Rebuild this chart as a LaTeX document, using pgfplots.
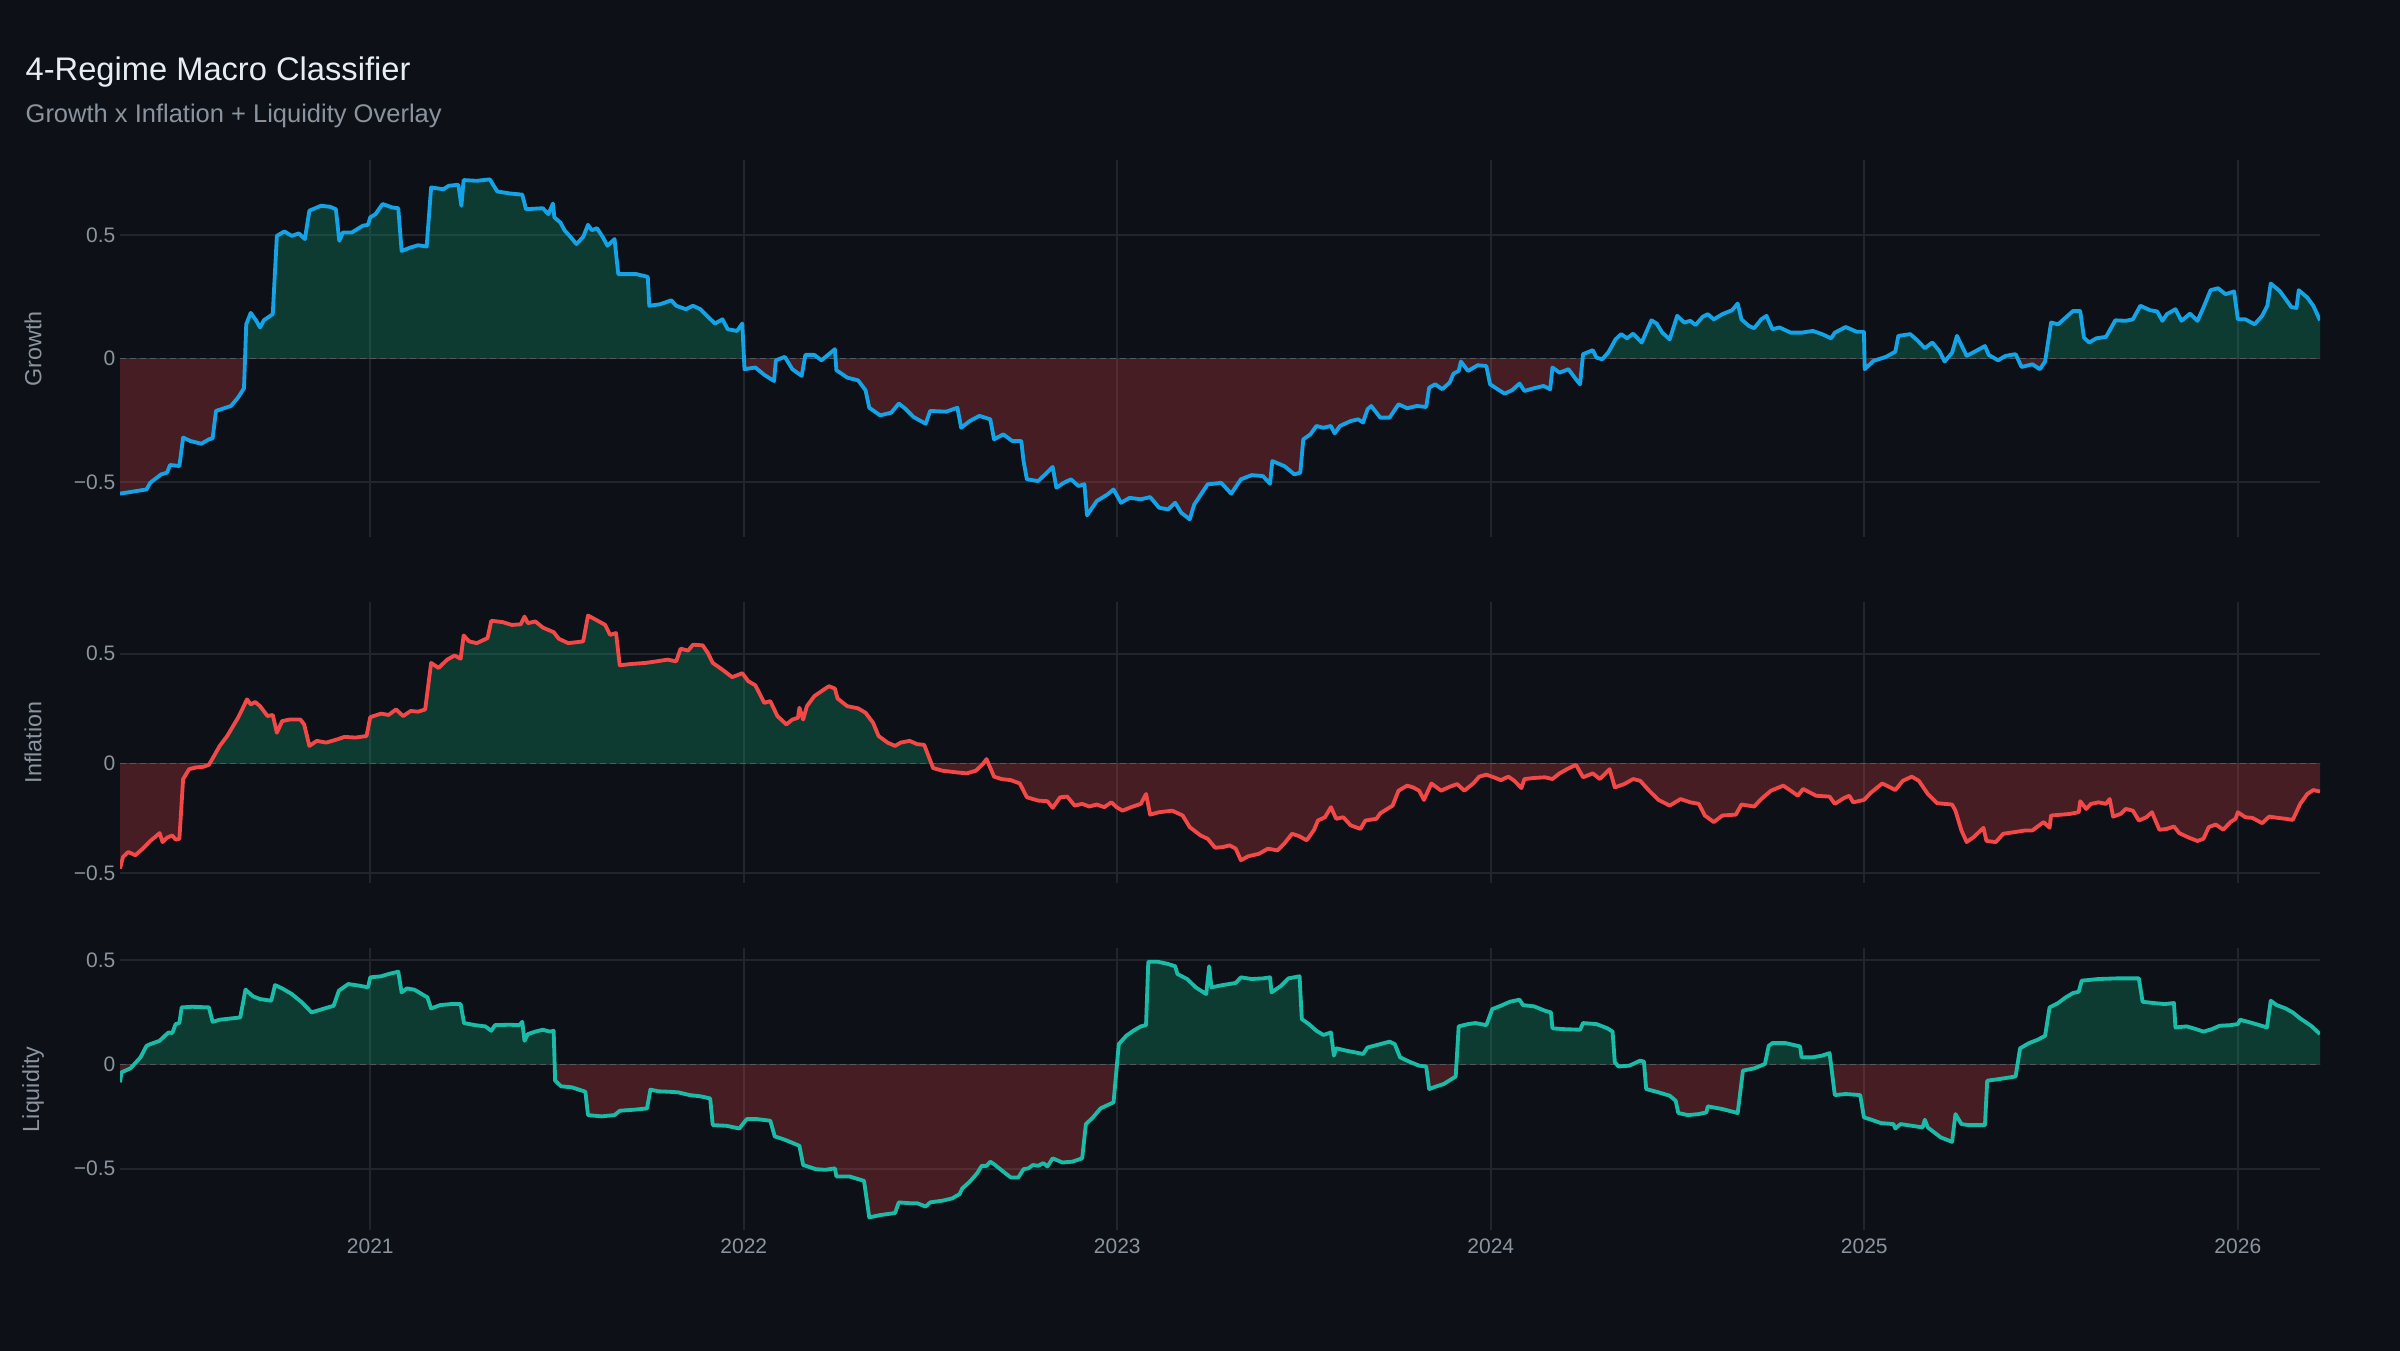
\documentclass[border=0pt]{standalone}
\usepackage{fontspec}
\setmainfont{Liberation Sans}
\usepackage{xcolor}
\usepackage{pgfplots}
\pgfplotsset{compat=1.18}
\usepackage{pgfplotstable}

\definecolor{bgc}{RGB}{13,17,23}
\definecolor{gridc}{RGB}{33,38,45}
\definecolor{zeroc}{RGB}{85,88,94}
\definecolor{titlec}{RGB}{230,237,243}
\definecolor{subc}{RGB}{139,148,158}
\definecolor{gline}{RGB}{20,163,230}
\definecolor{iline}{RGB}{242,72,72}
\definecolor{lline}{RGB}{26,188,168}
\definecolor{posc}{RGB}{16,185,129}
\definecolor{negc}{RGB}{239,68,68}

% year  score
\pgfplotstableread{
x y
2020.330 -0.547
2020.401 -0.530
2020.411 -0.503
2020.440 -0.469
2020.456 -0.462
2020.464 -0.431
2020.489 -0.435
2020.499 -0.320
2020.519 -0.334
2020.548 -0.345
2020.568 -0.327
2020.578 -0.323
2020.587 -0.212
2020.627 -0.192
2020.646 -0.158
2020.662 -0.120
2020.668 0.139
2020.680 0.185
2020.695 0.153
2020.705 0.126
2020.715 0.155
2020.739 0.180
2020.750 0.497
2020.770 0.515
2020.790 0.497
2020.809 0.507
2020.825 0.484
2020.837 0.599
2020.868 0.619
2020.892 0.615
2020.908 0.605
2020.917 0.477
2020.927 0.511
2020.951 0.511
2020.980 0.538
2020.994 0.542
2021.000 0.572
2021.014 0.585
2021.033 0.626
2021.059 0.612
2021.075 0.609
2021.084 0.436
2021.108 0.450
2021.128 0.459
2021.151 0.454
2021.163 0.693
2021.196 0.686
2021.210 0.700
2021.236 0.704
2021.244 0.619
2021.250 0.723
2021.285 0.720
2021.320 0.726
2021.340 0.677
2021.373 0.669
2021.407 0.664
2021.417 0.605
2021.462 0.609
2021.477 0.585
2021.489 0.628
2021.493 0.572
2021.509 0.551
2021.521 0.518
2021.536 0.493
2021.552 0.464
2021.570 0.493
2021.583 0.542
2021.593 0.520
2021.607 0.528
2021.623 0.491
2021.635 0.457
2021.654 0.484
2021.664 0.342
2021.713 0.342
2021.743 0.331
2021.747 0.214
2021.776 0.220
2021.806 0.236
2021.819 0.214
2021.845 0.200
2021.864 0.214
2021.884 0.200
2021.904 0.169
2021.923 0.142
2021.943 0.159
2021.957 0.119
2021.982 0.112
2021.996 0.142
2022.002 -0.043
2022.031 -0.036
2022.055 -0.066
2022.081 -0.091
2022.086 -0.007
2022.110 0.007
2022.130 -0.043
2022.155 -0.070
2022.165 0.015
2022.189 0.015
2022.208 -0.007
2022.244 0.038
2022.248 -0.047
2022.277 -0.077
2022.306 -0.088
2022.326 -0.128
2022.336 -0.199
2022.365 -0.230
2022.395 -0.219
2022.415 -0.182
2022.434 -0.205
2022.454 -0.236
2022.487 -0.264
2022.499 -0.212
2022.542 -0.215
2022.572 -0.199
2022.582 -0.280
2022.605 -0.253
2022.631 -0.232
2022.660 -0.246
2022.670 -0.327
2022.695 -0.307
2022.719 -0.334
2022.743 -0.334
2022.749 -0.415
2022.758 -0.489
2022.788 -0.496
2022.807 -0.469
2022.827 -0.439
2022.837 -0.523
2022.857 -0.503
2022.876 -0.489
2022.896 -0.516
2022.912 -0.509
2022.919 -0.635
2022.945 -0.577
2022.974 -0.550
2022.990 -0.530
2023.010 -0.584
2023.033 -0.564
2023.063 -0.570
2023.088 -0.561
2023.112 -0.604
2023.136 -0.611
2023.155 -0.584
2023.171 -0.624
2023.194 -0.651
2023.206 -0.591
2023.242 -0.509
2023.258 -0.507
2023.278 -0.503
2023.305 -0.547
2023.331 -0.489
2023.360 -0.472
2023.390 -0.476
2023.409 -0.507
2023.415 -0.415
2023.448 -0.436
2023.474 -0.469
2023.490 -0.462
2023.498 -0.327
2023.517 -0.307
2023.533 -0.273
2023.552 -0.280
2023.572 -0.273
2023.582 -0.303
2023.596 -0.273
2023.625 -0.253
2023.645 -0.246
2023.658 -0.259
2023.670 -0.205
2023.680 -0.192
2023.704 -0.239
2023.729 -0.239
2023.753 -0.185
2023.776 -0.201
2023.802 -0.192
2023.827 -0.196
2023.835 -0.118
2023.851 -0.104
2023.870 -0.124
2023.890 -0.097
2023.900 -0.061
2023.914 -0.050
2023.920 -0.012
2023.939 -0.050
2023.965 -0.027
2023.988 -0.030
2023.998 -0.104
2024.018 -0.124
2024.037 -0.142
2024.057 -0.128
2024.077 -0.101
2024.090 -0.131
2024.116 -0.120
2024.141 -0.111
2024.159 -0.124
2024.165 -0.036
2024.184 -0.057
2024.208 -0.043
2024.228 -0.084
2024.239 -0.104
2024.247 0.018
2024.273 0.034
2024.283 0.004
2024.298 -0.003
2024.314 0.024
2024.322 0.045
2024.334 0.078
2024.349 0.099
2024.365 0.082
2024.381 0.101
2024.404 0.065
2024.430 0.155
2024.444 0.142
2024.459 0.105
2024.479 0.078
2024.499 0.173
2024.518 0.146
2024.534 0.153
2024.548 0.136
2024.567 0.169
2024.581 0.180
2024.597 0.159
2024.620 0.180
2024.646 0.196
2024.661 0.223
2024.671 0.159
2024.691 0.132
2024.705 0.123
2024.724 0.159
2024.738 0.173
2024.754 0.119
2024.773 0.126
2024.803 0.105
2024.832 0.105
2024.862 0.112
2024.887 0.099
2024.911 0.082
2024.921 0.105
2024.950 0.128
2024.979 0.109
2024.999 0.109
2025.001 -0.043
2025.025 -0.009
2025.058 0.007
2025.083 0.028
2025.091 0.092
2025.123 0.099
2025.142 0.074
2025.162 0.042
2025.182 0.065
2025.201 0.031
2025.215 -0.012
2025.235 0.024
2025.248 0.092
2025.274 0.011
2025.299 0.031
2025.323 0.051
2025.333 0.015
2025.358 -0.007
2025.378 0.011
2025.405 0.018
2025.421 -0.034
2025.450 -0.023
2025.470 -0.043
2025.484 -0.012
2025.500 0.146
2025.519 0.139
2025.539 0.166
2025.559 0.193
2025.578 0.193
2025.588 0.085
2025.602 0.065
2025.621 0.082
2025.647 0.088
2025.672 0.155
2025.700 0.153
2025.719 0.159
2025.739 0.214
2025.765 0.196
2025.784 0.191
2025.798 0.153
2025.810 0.180
2025.833 0.200
2025.849 0.153
2025.872 0.182
2025.892 0.153
2025.908 0.207
2025.927 0.277
2025.947 0.285
2025.967 0.261
2025.990 0.272
2026.000 0.159
2026.020 0.159
2026.045 0.139
2026.065 0.173
2026.079 0.214
2026.088 0.304
2026.112 0.274
2026.128 0.241
2026.143 0.209
2026.157 0.205
2026.163 0.277
2026.186 0.247
2026.202 0.214
2026.220 0.155
}\growth

\pgfplotstableread{
x y
2020.330 -0.479
2020.338 -0.426
2020.352 -0.403
2020.371 -0.418
2020.391 -0.388
2020.411 -0.353
2020.424 -0.335
2020.436 -0.317
2020.444 -0.358
2020.456 -0.338
2020.470 -0.328
2020.479 -0.347
2020.489 -0.343
2020.499 -0.071
2020.515 -0.026
2020.534 -0.018
2020.554 -0.015
2020.568 -0.006
2020.582 0.035
2020.597 0.080
2020.617 0.125
2020.633 0.171
2020.646 0.208
2020.656 0.242
2020.670 0.292
2020.680 0.269
2020.692 0.280
2020.705 0.261
2020.725 0.216
2020.739 0.221
2020.750 0.140
2020.764 0.193
2020.784 0.200
2020.813 0.200
2020.823 0.178
2020.837 0.080
2020.857 0.103
2020.882 0.095
2020.912 0.110
2020.931 0.121
2020.961 0.118
2020.990 0.125
2021.000 0.211
2021.029 0.227
2021.049 0.221
2021.069 0.246
2021.088 0.216
2021.108 0.239
2021.128 0.236
2021.147 0.246
2021.163 0.458
2021.183 0.435
2021.206 0.473
2021.226 0.492
2021.242 0.477
2021.250 0.583
2021.265 0.556
2021.285 0.548
2021.314 0.571
2021.324 0.650
2021.354 0.644
2021.379 0.631
2021.403 0.634
2021.413 0.669
2021.422 0.639
2021.442 0.647
2021.462 0.619
2021.491 0.598
2021.505 0.568
2021.530 0.548
2021.570 0.556
2021.583 0.674
2021.609 0.650
2021.629 0.631
2021.642 0.586
2021.658 0.594
2021.668 0.447
2021.697 0.453
2021.737 0.458
2021.766 0.465
2021.796 0.473
2021.819 0.465
2021.831 0.523
2021.851 0.514
2021.864 0.541
2021.890 0.538
2021.904 0.503
2021.917 0.458
2021.943 0.427
2021.969 0.393
2021.996 0.411
2022.012 0.375
2022.031 0.356
2022.055 0.276
2022.071 0.284
2022.090 0.216
2022.114 0.178
2022.130 0.200
2022.145 0.208
2022.149 0.254
2022.159 0.200
2022.169 0.261
2022.189 0.307
2022.208 0.329
2022.228 0.352
2022.244 0.341
2022.251 0.296
2022.277 0.261
2022.306 0.251
2022.326 0.231
2022.346 0.186
2022.361 0.125
2022.385 0.095
2022.405 0.080
2022.420 0.095
2022.444 0.103
2022.464 0.088
2022.483 0.085
2022.507 -0.021
2022.532 -0.033
2022.572 -0.041
2022.597 -0.045
2022.621 -0.033
2022.640 -0.003
2022.650 0.020
2022.670 -0.060
2022.690 -0.071
2022.715 -0.076
2022.739 -0.091
2022.758 -0.154
2022.788 -0.169
2022.813 -0.172
2022.827 -0.202
2022.847 -0.154
2022.866 -0.151
2022.886 -0.192
2022.906 -0.184
2022.925 -0.196
2022.945 -0.187
2022.965 -0.199
2022.984 -0.177
2022.998 -0.199
2023.014 -0.215
2023.037 -0.199
2023.063 -0.184
2023.077 -0.139
2023.088 -0.233
2023.112 -0.222
2023.147 -0.215
2023.175 -0.237
2023.194 -0.290
2023.223 -0.328
2023.242 -0.343
2023.262 -0.384
2023.282 -0.381
2023.301 -0.373
2023.317 -0.388
2023.331 -0.441
2023.350 -0.423
2023.380 -0.411
2023.403 -0.388
2023.429 -0.396
2023.448 -0.363
2023.468 -0.320
2023.488 -0.332
2023.507 -0.350
2023.527 -0.302
2023.537 -0.260
2023.556 -0.245
2023.572 -0.199
2023.586 -0.252
2023.605 -0.245
2023.625 -0.282
2023.651 -0.298
2023.664 -0.260
2023.694 -0.252
2023.704 -0.227
2023.737 -0.192
2023.753 -0.124
2023.776 -0.101
2023.792 -0.109
2023.808 -0.124
2023.821 -0.166
2023.841 -0.091
2023.867 -0.124
2023.890 -0.106
2023.910 -0.094
2023.929 -0.124
2023.953 -0.091
2023.969 -0.060
2023.988 -0.051
2024.008 -0.063
2024.027 -0.076
2024.047 -0.060
2024.063 -0.079
2024.082 -0.112
2024.090 -0.071
2024.116 -0.066
2024.145 -0.063
2024.165 -0.071
2024.184 -0.045
2024.204 -0.026
2024.228 -0.006
2024.247 -0.063
2024.273 -0.045
2024.292 -0.071
2024.318 -0.026
2024.332 -0.109
2024.357 -0.094
2024.381 -0.071
2024.400 -0.079
2024.424 -0.124
2024.449 -0.166
2024.479 -0.192
2024.508 -0.162
2024.534 -0.177
2024.557 -0.184
2024.573 -0.237
2024.597 -0.267
2024.620 -0.237
2024.656 -0.233
2024.671 -0.187
2024.705 -0.196
2024.724 -0.162
2024.750 -0.124
2024.783 -0.101
2024.803 -0.124
2024.822 -0.147
2024.836 -0.116
2024.871 -0.147
2024.907 -0.151
2024.921 -0.184
2024.946 -0.157
2024.960 -0.147
2024.970 -0.177
2024.999 -0.166
2025.019 -0.131
2025.048 -0.091
2025.083 -0.121
2025.103 -0.079
2025.127 -0.060
2025.146 -0.079
2025.170 -0.139
2025.195 -0.181
2025.235 -0.187
2025.244 -0.215
2025.260 -0.305
2025.274 -0.358
2025.293 -0.335
2025.319 -0.293
2025.327 -0.353
2025.352 -0.358
2025.372 -0.320
2025.401 -0.313
2025.431 -0.305
2025.450 -0.305
2025.480 -0.267
2025.496 -0.293
2025.500 -0.237
2025.529 -0.233
2025.549 -0.230
2025.574 -0.222
2025.578 -0.172
2025.594 -0.207
2025.607 -0.184
2025.627 -0.177
2025.647 -0.184
2025.657 -0.162
2025.666 -0.242
2025.686 -0.230
2025.700 -0.207
2025.719 -0.215
2025.735 -0.260
2025.755 -0.245
2025.770 -0.222
2025.790 -0.302
2025.810 -0.298
2025.829 -0.287
2025.843 -0.317
2025.869 -0.338
2025.892 -0.353
2025.908 -0.343
2025.922 -0.290
2025.941 -0.278
2025.961 -0.302
2025.980 -0.267
2025.994 -0.252
2026.000 -0.222
2026.020 -0.245
2026.039 -0.248
2026.065 -0.272
2026.084 -0.242
2026.108 -0.248
2026.128 -0.252
2026.147 -0.257
2026.167 -0.184
2026.186 -0.139
2026.202 -0.121
2026.220 -0.128
}\inflation

\pgfplotstableread{
x y
2020.330 -0.086
2020.334 -0.038
2020.358 -0.019
2020.385 0.034
2020.401 0.089
2020.411 0.097
2020.436 0.113
2020.450 0.137
2020.460 0.153
2020.470 0.150
2020.479 0.193
2020.489 0.198
2020.495 0.273
2020.523 0.276
2020.568 0.273
2020.578 0.204
2020.597 0.214
2020.627 0.220
2020.652 0.225
2020.666 0.358
2020.686 0.326
2020.705 0.313
2020.735 0.305
2020.745 0.380
2020.764 0.364
2020.790 0.337
2020.817 0.297
2020.843 0.249
2020.872 0.265
2020.902 0.281
2020.916 0.353
2020.941 0.385
2020.971 0.377
2020.994 0.369
2021.000 0.417
2021.029 0.422
2021.049 0.433
2021.075 0.444
2021.084 0.345
2021.098 0.364
2021.118 0.358
2021.138 0.337
2021.153 0.321
2021.163 0.268
2021.187 0.284
2021.216 0.289
2021.242 0.289
2021.251 0.198
2021.281 0.188
2021.308 0.182
2021.324 0.161
2021.334 0.188
2021.373 0.190
2021.399 0.188
2021.407 0.204
2021.413 0.113
2021.422 0.145
2021.442 0.157
2021.462 0.166
2021.481 0.157
2021.491 0.161
2021.495 -0.078
2021.511 -0.105
2021.540 -0.110
2021.576 -0.131
2021.583 -0.243
2021.619 -0.249
2021.654 -0.243
2021.668 -0.222
2021.707 -0.217
2021.741 -0.211
2021.750 -0.121
2021.772 -0.129
2021.800 -0.131
2021.825 -0.134
2021.855 -0.147
2021.884 -0.153
2021.910 -0.163
2021.917 -0.291
2021.953 -0.294
2021.988 -0.307
2022.008 -0.262
2022.035 -0.262
2022.071 -0.270
2022.083 -0.345
2022.110 -0.361
2022.149 -0.390
2022.159 -0.482
2022.193 -0.502
2022.218 -0.505
2022.244 -0.498
2022.248 -0.537
2022.283 -0.537
2022.322 -0.558
2022.336 -0.733
2022.365 -0.722
2022.405 -0.712
2022.415 -0.661
2022.444 -0.665
2022.464 -0.665
2022.487 -0.681
2022.499 -0.661
2022.532 -0.653
2022.558 -0.642
2022.578 -0.621
2022.585 -0.594
2022.605 -0.562
2022.625 -0.521
2022.637 -0.486
2022.650 -0.486
2022.660 -0.466
2022.670 -0.478
2022.695 -0.514
2022.715 -0.542
2022.735 -0.542
2022.749 -0.502
2022.762 -0.498
2022.774 -0.482
2022.788 -0.486
2022.802 -0.473
2022.813 -0.489
2022.827 -0.450
2022.853 -0.470
2022.880 -0.466
2022.906 -0.450
2022.916 -0.286
2022.935 -0.254
2022.955 -0.211
2022.974 -0.195
2022.990 -0.182
2023.004 0.097
2023.024 0.137
2023.043 0.161
2023.063 0.182
2023.077 0.188
2023.083 0.492
2023.108 0.492
2023.136 0.481
2023.155 0.470
2023.161 0.433
2023.187 0.409
2023.210 0.369
2023.238 0.337
2023.246 0.470
2023.252 0.369
2023.282 0.380
2023.317 0.390
2023.331 0.417
2023.360 0.409
2023.390 0.412
2023.409 0.417
2023.413 0.345
2023.439 0.377
2023.458 0.412
2023.488 0.422
2023.494 0.217
2023.513 0.193
2023.533 0.161
2023.552 0.141
2023.572 0.153
2023.580 0.042
2023.586 0.077
2023.615 0.065
2023.658 0.050
2023.670 0.081
2023.704 0.097
2023.729 0.109
2023.743 0.097
2023.757 0.034
2023.782 0.013
2023.808 -0.006
2023.827 -0.010
2023.835 -0.118
2023.855 -0.105
2023.874 -0.094
2023.906 -0.058
2023.914 0.182
2023.939 0.193
2023.959 0.198
2023.988 0.188
2024.004 0.265
2024.027 0.281
2024.051 0.300
2024.077 0.310
2024.086 0.284
2024.116 0.278
2024.145 0.257
2024.161 0.249
2024.165 0.173
2024.194 0.169
2024.239 0.166
2024.247 0.198
2024.283 0.193
2024.312 0.173
2024.326 0.157
2024.332 0.010
2024.342 -0.010
2024.371 -0.006
2024.400 0.018
2024.410 0.013
2024.416 -0.118
2024.449 -0.134
2024.479 -0.150
2024.495 -0.174
2024.502 -0.233
2024.528 -0.243
2024.557 -0.238
2024.577 -0.230
2024.581 -0.201
2024.620 -0.214
2024.661 -0.233
2024.675 -0.030
2024.705 -0.019
2024.734 0.002
2024.744 0.089
2024.754 0.102
2024.789 0.102
2024.828 0.086
2024.832 0.034
2024.862 0.034
2024.887 0.042
2024.907 0.054
2024.921 -0.147
2024.950 -0.142
2024.989 -0.147
2024.999 -0.254
2025.019 -0.265
2025.044 -0.281
2025.078 -0.286
2025.083 -0.307
2025.097 -0.286
2025.127 -0.294
2025.156 -0.302
2025.162 -0.265
2025.170 -0.302
2025.185 -0.323
2025.205 -0.350
2025.235 -0.371
2025.244 -0.238
2025.260 -0.286
2025.280 -0.291
2025.323 -0.291
2025.329 -0.078
2025.362 -0.070
2025.405 -0.058
2025.417 0.077
2025.441 0.102
2025.464 0.118
2025.484 0.137
2025.496 0.273
2025.519 0.294
2025.539 0.321
2025.559 0.342
2025.574 0.348
2025.582 0.401
2025.627 0.409
2025.676 0.412
2025.735 0.412
2025.745 0.300
2025.774 0.294
2025.804 0.289
2025.829 0.294
2025.833 0.177
2025.863 0.182
2025.888 0.169
2025.908 0.157
2025.931 0.169
2025.951 0.185
2025.980 0.188
2026.000 0.193
2026.006 0.214
2026.039 0.198
2026.078 0.177
2026.088 0.305
2026.104 0.284
2026.128 0.268
2026.147 0.249
2026.167 0.220
2026.196 0.185
2026.220 0.145
}\liquidity

\pgfplotsset{
  panel/.style={
    scale only axis, width=660pt, anchor=south west,
    xmin=2020.33, xmax=2026.22,
    axis line style={draw=none}, major tick length=0pt,
    xtick={2021,2022,2023,2024,2025,2026},
    ytick={-0.5,0,0.5}, yticklabels={−0.5,0,0.5},
    xmajorgrids, ymajorgrids,
    grid style={gridc, line width=0.5pt},
    tick label style={font=\fontsize{6.3}{7}\selectfont, text=subc},
    yticklabel style={inner sep=0pt, anchor=east, xshift=-1.2pt},
    xticklabel style={inner sep=0pt, anchor=north, yshift=-2.2pt},
    every axis y label/.style={at={(axis description cs:-0.0395,0.5)},
      rotate=90, anchor=center, font=\fontsize{7}{8}\selectfont, text=subc},
  },
  zeroline/.style={zeroc, line width=0.5pt, dash pattern=on 1.8pt off 1.2pt},
  posfill/.style={fill=posc, fill opacity=0.25, draw=none},
  negfill/.style={fill=negc, fill opacity=0.25, draw=none},
}

% area between a series and zero: green above, red below
\newcommand{\regimefill}[1]{%
  \begin{scope}
  \clip (axis cs:2020.33,0) rectangle (axis cs:2026.22,2);
  \addplot[posfill] table {#1} \closedcycle;
  \end{scope}
  \begin{scope}
  \clip (axis cs:2020.33,-2) rectangle (axis cs:2026.22,0);
  \addplot[negfill] table {#1} \closedcycle;
  \end{scope}
  \addplot[zeroline] coordinates {(2020.33,0) (2026.22,0)};
}

\begin{document}%
\pagecolor{bgc}%
\begin{tikzpicture}
\path (0,0) rectangle (720pt,405.2pt);
\node[anchor=base west, inner sep=0pt, text=titlec, font=\fontsize{9.8}{11}\selectfont]
  at (7.5pt,381pt) {4-Regime Macro Classifier};
\node[anchor=base west, inner sep=0pt, text=subc, font=\fontsize{7.65}{9}\selectfont]
  at (7.5pt,368.5pt) {Growth x Inflation + Liquidity Overlay};

% growth
\begin{axis}[panel, at={(36pt,244pt)}, height=113.1pt,
  ymin=-0.724, ymax=0.803, ylabel={Growth}, xticklabels={}]
\regimefill{\growth}
\addplot[gline, line width=1.15pt, line join=round] table {\growth};
\end{axis}

% inflation
\begin{axis}[panel, at={(36pt,140.2pt)}, height=84.5pt,
  ymin=-0.546, ymax=0.737, ylabel={Inflation}, xticklabels={}]
\regimefill{\inflation}
\addplot[iline, line width=1.15pt, line join=round] table {\inflation};
\end{axis}

% liquidity
\begin{axis}[panel, at={(36pt,36.1pt)}, height=84.6pt,
  ymin=-0.795, ymax=0.556, ylabel={Liquidity},
  xticklabels={2021,2022,2023,2024,2025,2026}]
\regimefill{\liquidity}
\addplot[lline, line width=1.15pt, line join=round] table {\liquidity};
\end{axis}
\end{tikzpicture}
\end{document}
